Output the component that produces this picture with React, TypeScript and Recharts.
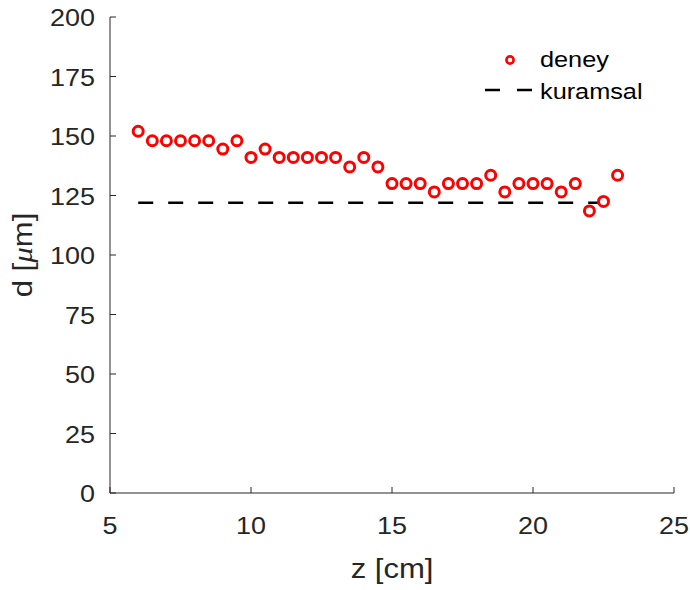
import React from 'react';
import { Scatter, Line, XAxis, YAxis, ComposedChart } from 'recharts';

const zValues = [6, 6.5, 7, 7.5, 8, 8.5, 9, 9.5, 10, 10.5, 11, 11.5, 12, 12.5, 13, 13.5, 14, 14.5,
  15, 15.5, 16, 16.5, 17, 17.5, 18, 18.5, 19, 19.5, 20, 20.5, 21, 21.5, 22, 22.5, 23];
const dValues = [152, 148, 148, 148, 148, 148, 144.5, 148, 141, 144.5, 141, 141, 141, 141, 141, 137, 141, 137,
  130, 130, 130, 126.5, 130, 130, 130, 133.5, 126.5, 130, 130, 130, 126.5, 130, 118.5, 122.5, 133.5];
const theoryZ = [6, 23];
const theoryD = [122, 122];
const xTicks = [5, 10, 15, 20, 25];
const yTicks = [0, 25, 50, 75, 100, 125, 150, 175, 200];

const deney = zValues.map((z, i) => ({ z, d: dValues[i] }));
const kuramsal = theoryZ.map((z, i) => ({ z, d: theoryD[i] }));

const FONT = 'Liberation Sans, Arial, sans-serif';
const AX = '#262626';

// text stretched horizontally around its anchor point
const Wide = ({ x, y, anchor, size, sx = 1.1, rotate = 0, children, fill = AX }: any) => (
  <text transform={`translate(${x} ${y}) rotate(${rotate}) scale(${sx} 1)`} textAnchor={anchor}
    fontFamily={FONT} fontSize={size} fill={fill}>
    {children}
  </text>
);

const BottomTick = ({ x, y, payload }: any) => (
  <g>
    <line x1={x} y1={y} x2={x} y2={y - 6} stroke={AX} />
    <Wide x={x} y={y + 41} anchor="middle" size={24.5}>{payload.value}</Wide>
  </g>
);
const TopTick = ({ x, y }: any) => <line x1={x} y1={y} x2={x} y2={y + 6} stroke={AX} />;
const LeftTick = ({ x, y, payload }: any) => (
  <g>
    <line x1={x} y1={y} x2={x + 6} y2={y} stroke={AX} />
    <Wide x={x - 15} y={y + 9} anchor="end" size={24.5}>{payload.value}</Wide>
  </g>
);
const RightTick = ({ x, y }: any) => <line x1={x} y1={y} x2={x - 6} y2={y} stroke={AX} />;

const RingDot = (props: any) => {
  const { cx, cy } = props;
  if (cx == null || cy == null) return null;
  return <circle cx={cx} cy={cy} r={5} fill="#fff" stroke="#ff0000" strokeWidth={3} />;
};

const XLabel = ({ viewBox }: any) => (
  <Wide x={viewBox.x + viewBox.width / 2} y={578} anchor="middle" size={27} sx={1.15}>z [cm]</Wide>
);

const YLabel = ({ viewBox }: any) => (
  <Wide x={32} y={viewBox.y + viewBox.height / 2} rotate={-90} anchor="middle" size={27} sx={1.15}>
    d [<tspan fontStyle="italic" fontFamily="Liberation Serif, serif">μ</tspan>m]
  </Wide>
);

const LegendBox = () => (
  <g>
    <circle cx={510} cy={60} r={3.6} fill="#fff" stroke="#ff0000" strokeWidth={2.6} />
    <Wide x={540} y={67} anchor="start" size={22} sx={1.15} fill="#000">deney</Wide>
    <line x1={485} y1={90} x2={533} y2={90} stroke="#000" strokeWidth={2.5} strokeDasharray="15 17" />
    <Wide x={540} y={99} anchor="start" size={22} sx={1.15} fill="#000">kuramsal</Wide>
  </g>
);

const App = () => (
  <div style={{ position: 'absolute', left: 0, top: 0, background: '#fff' }}>
    <ComposedChart width={690} height={590}
      margin={{ top: 17, right: 16, bottom: 47, left: 50 }}>
      <XAxis xAxisId="b" dataKey="z" type="number" domain={[5, 25]} ticks={xTicks}
        allowDataOverflow height={50} stroke={AX} tickLine={false} tickSize={0} tickMargin={0}
        tick={<BottomTick />} label={<XLabel />} />
      <XAxis xAxisId="t" dataKey="z" type="number" orientation="top" domain={[5, 25]} ticks={xTicks}
        height={0} stroke={AX} tickLine={false} tickSize={0} tickMargin={0} tick={<TopTick />} />
      <YAxis yAxisId="l" dataKey="d" type="number" domain={[0, 200]} ticks={yTicks}
        width={60} stroke={AX} tickLine={false} tickSize={0} tickMargin={0}
        tick={<LeftTick />} label={<YLabel />} />
      <YAxis yAxisId="r" dataKey="d" type="number" orientation="right" domain={[0, 200]} ticks={yTicks}
        width={0} stroke={AX} tickLine={false} tickSize={0} tickMargin={0} tick={<RightTick />} />
      <Line xAxisId="b" yAxisId="l" data={kuramsal} dataKey="d" stroke="#000" strokeWidth={2.5}
        strokeDasharray="15 15" dot={false} isAnimationActive={false} />
      <Scatter xAxisId="b" yAxisId="l" data={deney} dataKey="d" shape={<RingDot />}
        isAnimationActive={false} />
      <LegendBox />
    </ComposedChart>
  </div>
);

export default App;
